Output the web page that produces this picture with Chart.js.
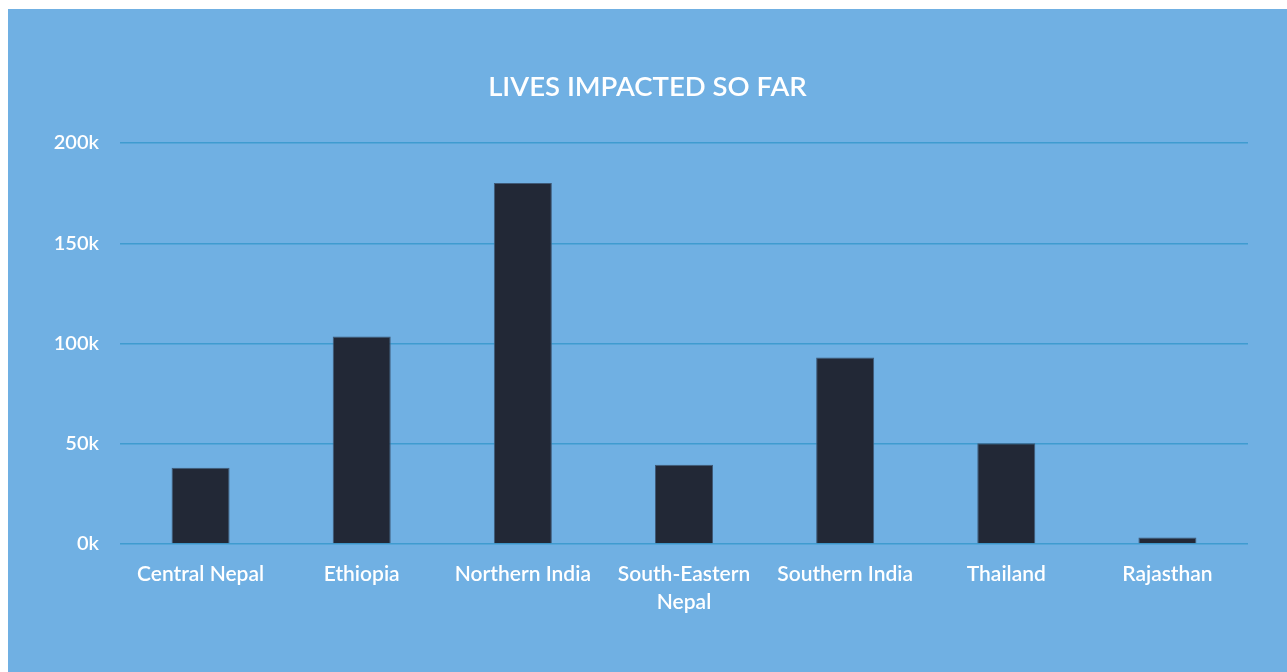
<!DOCTYPE html>
<html>
<head>
<meta charset="utf-8">
<script src="https://cdn.jsdelivr.net/npm/chart.js@4"></script>
<style>
  html, body { margin: 0; padding: 0; background: #ffffff; }
  #wrap {
    position: absolute;
    left: 8px;
    top: 9px;
    width: 1279px;
    height: 663px;
    background: #70b0e3;
  }
</style>
</head>
<body>
<div id="wrap"><canvas id="chart"></canvas></div>
<script>
const regions = ['Central Nepal', 'Ethiopia', 'Northern India', ['South-Eastern', 'Nepal'], 'Southern India', 'Thailand', 'Rajasthan'];
const livesImpacted = [38000, 103500, 180000, 39500, 93000, 50300, 3300];
const yTicks = [0, 50000, 100000, 150000, 200000];

const font = 'Lato, "Open Sans", sans-serif';

new Chart(document.getElementById('chart').getContext('2d'), {
  type: 'bar',
  data: {
    labels: regions,
    datasets: [{
      label: 'Lives impacted',
      data: livesImpacted,
      backgroundColor: '#222836',
      borderColor: '#3f5a78',
      borderWidth: 1,
      borderSkipped: 'bottom',
      categoryPercentage: 1,
      barPercentage: 0.36
    }]
  },
  options: {
    responsive: true,
    maintainAspectRatio: false,
    animation: false,
    layout: { padding: { left: 39, right: 39, top: 0, bottom: 0 } },
    plugins: {
      legend: { display: false },
      tooltip: { enabled: false },
      title: {
        display: true,
        text: 'LIVES IMPACTED SO FAR',
        color: '#ffffff',
        font: { family: font, size: 27.5, weight: 600, lineHeight: 1.2 },
        padding: { top: 62, bottom: 39 }
      }
    },
    scales: {
      x: {
        grid: { display: false, drawTicks: false },
        border: { display: false },
        ticks: {
          color: '#ffffff',
          font: { family: font, size: 21, weight: 600, lineHeight: 1.33 },
          padding: 16,
          maxRotation: 0,
          autoSkip: false
        },
        afterFit: (scale) => { scale.height = 663 - 535; }
      },
      y: {
        min: 0,
        max: 200000,
        afterBuildTicks: (scale) => { scale.ticks = yTicks.map((value) => ({ value })); },
        grid: { color: '#3f9bd0', lineWidth: 1.5, drawTicks: false },
        border: { display: false },
        ticks: {
          color: '#ffffff',
          font: { family: font, size: 20, weight: 600 },
          padding: 21,
          callback: (v) => `${v / 1000}k`
        },
        afterFit: (scale) => { scale.width = 112 - 39; }
      }
    }
  }
});
</script>
</body>
</html>
